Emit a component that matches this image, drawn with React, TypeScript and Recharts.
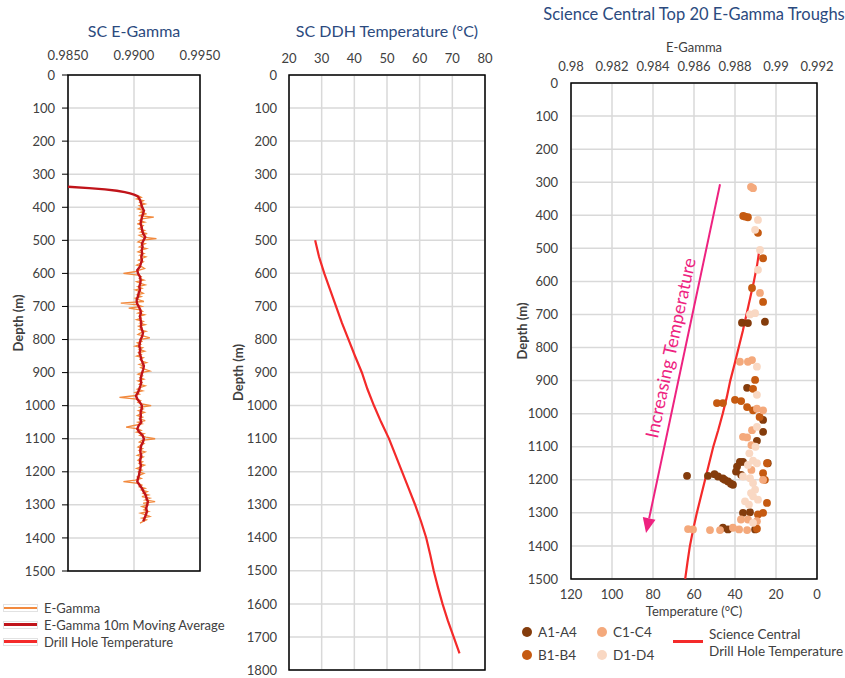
import React from 'react';
import { ScatterChart, Scatter, XAxis, YAxis, CartesianGrid, ReferenceArea, ReferenceLine } from 'recharts';

const FONT = 'Lato, "Noto Sans", sans-serif';
const TEXT = '#404040';
const TITLE = '#2B4A7E';
const GRID = '#D9D9D9';

const RAW_COLOR = '#F28A3E';
const MA_COLOR = '#C0141A';
const TEMP_COLOR = '#F42A2A';
const PINK = '#EE2280';

const A_COLOR = '#843C0C';
const B_COLOR = '#C55A11';
const C_COLOR = '#F4A97C';
const D_COLOR = '#F9D8C3';

// axis ticks
const depthTicks1500 = [0, 100, 200, 300, 400, 500, 600, 700, 800, 900, 1000, 1100, 1200, 1300, 1400, 1500];
const depthTicks1800 = [0, 100, 200, 300, 400, 500, 600, 700, 800, 900, 1000, 1100, 1200, 1300, 1400, 1500, 1600, 1700, 1800];
const egTicks = [0.985, 0.99, 0.995];
const ddhTempTicks = [20, 30, 40, 50, 60, 70, 80];
const troughEgTicks = [0.98, 0.982, 0.984, 0.986, 0.988, 0.99, 0.992];
const troughTempTicks = [0, 20, 40, 60, 80, 100, 120];

// E-Gamma log, sampled every 5 m from 365 m
const EG_START = 365;
const EG_STEP = 5;
const egRaw = [
  0.9903, 0.99055, 0.9902, 0.9907, 0.99045, 0.99085, 0.9904, 0.99065, 0.9903, 0.99075,
  0.9905, 0.99095, 0.99035, 0.9915, 0.9906, 0.9904, 0.9908, 0.99025, 0.9907, 0.99055,
  0.99035, 0.9908, 0.9905, 0.991, 0.9904, 0.99065, 0.9917, 0.9905, 0.9903, 0.99085,
  0.9906, 0.9904, 0.99095, 0.99055, 0.9903, 0.99075, 0.99045, 0.9909, 0.9906, 0.99035,
  0.9907, 0.99045, 0.9902, 0.9906, 0.9908, 0.9904, 0.99005, 0.9892, 0.9903, 0.99055,
  0.9904, 0.99075, 0.9902, 0.9905, 0.99085, 0.9903, 0.9906, 0.9901, 0.99045, 0.9907,
  0.99025, 0.99055, 0.9901, 0.9904, 0.99075, 0.989, 0.9903, 0.9906, 0.9896, 0.99045,
  0.99065, 0.9903, 0.9908, 0.9904, 0.99055, 0.9902, 0.9907, 0.99045, 0.99085, 0.99035,
  0.9906, 0.9904, 0.9909, 0.9905, 0.9903, 0.99075, 0.9912, 0.99045, 0.9906, 0.99025,
  0.9905, 0.9901, 0.99065, 0.9904, 0.9908, 0.99035, 0.99055, 0.9902, 0.9907, 0.99045,
  0.9906, 0.99095, 0.9904, 0.9907, 0.9905, 0.99085, 0.9912, 0.99055, 0.9903, 0.99065,
  0.99045, 0.99075, 0.9903, 0.9906, 0.9904, 0.99085, 0.9905, 0.99025, 0.99065, 0.9901,
  0.9904, 0.99, 0.9889, 0.9902, 0.9905, 0.9903, 0.9906, 0.9913, 0.99045, 0.9907,
  0.99035, 0.9908, 0.9905, 0.99025, 0.99065, 0.9904, 0.99085, 0.9903, 0.9906, 0.99,
  0.9894, 0.9903, 0.99055, 0.9902, 0.99075, 0.99045, 0.9909, 0.9916, 0.9906, 0.9904,
  0.99075, 0.9905, 0.9903, 0.99065, 0.9904, 0.99085, 0.99055, 0.99025, 0.9907, 0.99045,
  0.9903, 0.99065, 0.9904, 0.9908, 0.9905, 0.9902, 0.9906, 0.99035, 0.99075, 0.99045,
  0.99025, 0.99055, 0.9901, 0.9892, 0.9903, 0.9906, 0.9904, 0.99085, 0.99055, 0.991,
  0.9907, 0.9911, 0.9906, 0.9912, 0.99085, 0.9916, 0.9907, 0.99105, 0.9906, 0.99095,
  0.99075, 0.9911, 0.9905, 0.9909, 0.9912, 0.9906, 0.99095, 0.9907, 0.99045,
];

// 10 m moving average, every 10 m from 370 m, with the sharp rise above it
const riseDepths = [338, 342, 346, 350, 354, 358, 362, 366];
const riseValues = [0.985, 0.9866, 0.9878, 0.9887, 0.9893, 0.9897, 0.99, 0.99025];
const MA_START = 370;
const MA_STEP = 10;
const egMovingAvg = [
  0.99035, 0.99048, 0.99055, 0.99062, 0.99075, 0.99068, 0.9906, 0.99055, 0.9905, 0.99058,
  0.99062, 0.9907, 0.99085, 0.99072, 0.9906, 0.99065, 0.99058, 0.99062, 0.99055, 0.9906,
  0.99052, 0.99045, 0.99025, 0.9903, 0.99045, 0.9905, 0.99048, 0.9904, 0.99045, 0.99035,
  0.9903, 0.9902, 0.99022, 0.99035, 0.99048, 0.99052, 0.99045, 0.9905, 0.99055, 0.99052,
  0.9906, 0.99068, 0.99062, 0.9905, 0.99045, 0.9904, 0.99048, 0.99042, 0.9905, 0.99055,
  0.99065, 0.99075, 0.9907, 0.99062, 0.99055, 0.9905, 0.99055, 0.99048, 0.9904, 0.9903,
  0.99015, 0.99025, 0.99045, 0.9906, 0.99058, 0.9905, 0.99052, 0.99048, 0.99055, 0.99035,
  0.99025, 0.9904, 0.99065, 0.99075, 0.99068, 0.99055, 0.9905, 0.99048, 0.99055, 0.9905,
  0.99045, 0.99052, 0.99048, 0.99042, 0.99038, 0.9903, 0.99025, 0.99042, 0.9906, 0.99072,
  0.99088, 0.99095, 0.99105, 0.991, 0.99092, 0.99098, 0.9909, 0.9908, 0.9907,
];

// drill hole temperature
const tempDepths = [500, 550, 600, 650, 700, 750, 800, 850, 900, 950, 1000, 1050, 1100, 1150, 1200, 1250, 1300, 1350, 1400, 1450, 1500, 1550, 1600, 1650, 1700, 1750];
const tempValues = [28, 29.2, 30.8, 32.6, 34.4, 36.2, 38.2, 40.2, 42.3, 44, 46, 48.2, 50.6, 52.6, 54.6, 56.6, 58.6, 60.4, 62, 63.2, 64.3, 65.6, 67, 68.6, 70.4, 72.2];

// top 20 troughs: [depth, e-gamma]
const troughA = [
  [725, 0.98834], [726, 0.98863], [722, 0.98946], [922, 0.98859], [1019, 0.98937], [1055, 0.98937],
  [1082, 0.98907], [1188, 0.98566], [1188, 0.98668], [1183, 0.987], [1190, 0.98717], [1196, 0.98741],
  [1200, 0.9875], [1205, 0.98766], [1212, 0.9878], [1215, 0.9879], [1146, 0.98824], [1146, 0.98839],
  [1160, 0.9881], [1175, 0.98805], [1185, 0.9883], [1150, 0.9896], [1300, 0.98839], [1298, 0.98873],
  [1345, 0.98741], [1350, 0.98766], [1350, 0.98898],
];
const troughB = [
  [404, 0.98849], [406, 0.98863], [402, 0.9884], [453, 0.98912], [530, 0.98937], [620, 0.98883],
  [662, 0.98937], [898, 0.98898], [925, 0.98888], [968, 0.98712], [968, 0.98741], [958, 0.988],
  [962, 0.9883], [980, 0.98859], [990, 0.98888], [1010, 0.9892], [1150, 0.98956], [1180, 0.98937],
  [1200, 0.98946], [1270, 0.98956], [1305, 0.98912], [1300, 0.98937], [1348, 0.98907],
];
const troughC = [
  [314, 0.98878], [318, 0.98888], [635, 0.98922], [843, 0.98824], [843, 0.98863], [838, 0.98883],
  [985, 0.98907], [990, 0.98937], [1050, 0.98883], [1070, 0.98839], [1072, 0.98859], [1095, 0.9888],
  [1170, 0.9888], [1200, 0.98937], [1320, 0.98829], [1320, 0.98863], [1325, 0.98907], [1345, 0.9879],
  [1352, 0.98727], [1352, 0.98678], [1350, 0.9882], [1352, 0.98859], [1349, 0.98571], [1350, 0.98595],
];
const troughD = [
  [414, 0.98912], [444, 0.98898], [505, 0.98922], [565, 0.98912], [696, 0.98898], [700, 0.98873],
  [858, 0.98907], [943, 0.98907], [1040, 0.98907], [1100, 0.989], [1120, 0.9887], [1142, 0.98888],
  [1150, 0.98907], [1155, 0.98863], [1190, 0.98839], [1195, 0.98873], [1210, 0.98888], [1230, 0.98898],
  [1240, 0.98878], [1250, 0.98888], [1260, 0.98912], [1265, 0.98849], [1275, 0.98868], [1330, 0.98888],
];

// "Increasing Temperature" arrow, in temperature / depth units
const arrowFrom = { t: 47.3, depth: 306 };
const arrowTo = { t: 83.4, depth: 1361 };

const egRawData = egRaw.map((eg, i) => ({ depth: EG_START + i * EG_STEP, eg }));
const egMaData = [
  ...riseDepths.map((depth, i) => ({ depth, eg: riseValues[i] })),
  ...egMovingAvg.map((eg, i) => ({ depth: MA_START + i * MA_STEP, eg })),
];
const tempData = tempDepths.map((depth, i) => ({ depth, t: tempValues[i] }));
const tempData1500 = tempData.filter((d) => d.depth <= 1500);
const toPoints = (rows: number[][]) => rows.map(([depth, eg]) => ({ depth, eg }));

const tick = { fill: TEXT, fontSize: 13 };
const noShape = () => <g />;
const dot = (color: string) => (p: any) => <circle cx={p.cx} cy={p.cy} r={3.9} fill={color} />;

const ArrowShape = (p: any) => {
  const { x1, y1, x2, y2 } = p;
  const dx = x2 - x1;
  const dy = y2 - y1;
  const len = Math.hypot(dx, dy);
  const ux = dx / len;
  const uy = dy / len;
  const head = 15;
  const half = 6.5;
  const bx = x2 - ux * head;
  const by = y2 - uy * head;
  // text runs up the arrow, on its left side
  const mx = (x1 + x2) / 2 - uy * 15 - ux * 8;
  const my = (y1 + y2) / 2 + ux * 15 - uy * 8;
  const angle = (Math.atan2(-uy, -ux) * 180) / Math.PI;
  return (
    <g>
      <line x1={x1} y1={y1} x2={bx} y2={by} stroke={PINK} strokeWidth={2} />
      <polygon
        points={`${x2},${y2} ${bx - uy * half},${by + ux * half} ${bx + uy * half},${by - ux * half}`}
        fill={PINK}
      />
      <text
        x={mx}
        y={my}
        fill={PINK}
        fontSize={18}
        textAnchor="middle"
        dominantBaseline="central"
        transform={`rotate(${angle}, ${mx}, ${my})`}
      >
        Increasing Temperature
      </text>
    </g>
  );
};

const Title = ({ x, y, text, size = 16 }: { x: number; y: number; text: string; size?: number }) => (
  <div style={{ position: 'absolute', left: x, top: y, transform: 'translate(-50%, -50%)', whiteSpace: 'nowrap', color: TITLE, fontSize: size }}>
    {text}
  </div>
);

const depthLabel = { value: 'Depth (m)', angle: -90, position: 'insideLeft' as const, offset: 5, style: { textAnchor: 'middle', fill: TEXT, fontWeight: 700, fontSize: 13 } };

const lineLegend = [
  { name: 'E-Gamma', color: RAW_COLOR, w: 2 },
  { name: 'E-Gamma 10m Moving Average', color: MA_COLOR, w: 3 },
  { name: 'Drill Hole Temperature', color: TEMP_COLOR, w: 3 },
];

const dotLegend = [
  { name: 'A1-A4', color: A_COLOR, x: 527, y: 632 },
  { name: 'B1-B4', color: B_COLOR, x: 527, y: 655 },
  { name: 'C1-C4', color: C_COLOR, x: 602, y: 632 },
  { name: 'D1-D4', color: D_COLOR, x: 602, y: 655 },
];

export default function App() {
  return (
    <div style={{ position: 'absolute', left: 0, top: 0, width: 845, height: 678, overflow: 'hidden', background: '#fff', fontFamily: FONT }}>
      <Title x={134} y={30} text="SC E-Gamma" />
      <Title x={387} y={30} text="SC DDH Temperature (°C)" />
      <Title x={694} y={14} text="Science Central Top 20 E-Gamma Troughs" size={16.5} />

      {/* SC E-Gamma */}
      <div style={{ position: 'absolute', left: 0, top: 0 }}>
        <ScatterChart width={225} height={580} margin={{ top: 50, right: 25, bottom: 9, left: 13 }}>
          <CartesianGrid stroke={GRID} strokeWidth={1.5} />
          <XAxis type="number" dataKey="eg" orientation="top" height={25} domain={[0.985, 0.995]} ticks={egTicks}
            allowDataOverflow tickFormatter={(v: number) => v.toFixed(4)} tick={tick} tickSize={0} tickMargin={15} axisLine={false} />
          <YAxis type="number" dataKey="depth" reversed width={55} domain={[0, 1500]} ticks={depthTicks1500}
            allowDataOverflow tick={tick} tickSize={6} tickMargin={7} tickLine={{ stroke: '#000' }} axisLine={false}
            interval={0} label={depthLabel} />
          <ReferenceArea x1={0.985} x2={0.995} y1={0} y2={1500} fill="none" stroke="#000" strokeWidth={1.5} fillOpacity={0} />
          <Scatter data={egRawData} line={{ stroke: RAW_COLOR, strokeWidth: 1.3 }} shape={noShape} isAnimationActive={false} />
          <Scatter data={egMaData} line={{ stroke: MA_COLOR, strokeWidth: 2.4 }} shape={noShape} isAnimationActive={false} />
        </ScatterChart>
      </div>

      {/* SC DDH Temperature */}
      <div style={{ position: 'absolute', left: 225, top: 0 }}>
        <ScatterChart width={275} height={678} margin={{ top: 50, right: 15, bottom: 8, left: 8 }}>
          <CartesianGrid stroke={GRID} strokeWidth={1.5} />
          <XAxis type="number" dataKey="t" orientation="top" height={25} domain={[20, 80]} ticks={ddhTempTicks}
            allowDataOverflow tick={tick} tickSize={0} tickMargin={12} axisLine={false} />
          <YAxis type="number" dataKey="depth" reversed width={56} domain={[0, 1800]} ticks={depthTicks1800}
            allowDataOverflow tick={tick} tickSize={0} tickMargin={12} tickLine={false} axisLine={false}
            interval={0} label={depthLabel} />
          <ReferenceArea x1={20} x2={80} y1={0} y2={1800} fill="none" stroke="#000" strokeWidth={1.5} fillOpacity={0} />
          <Scatter data={tempData} line={{ stroke: TEMP_COLOR, strokeWidth: 2.2 }} shape={noShape} isAnimationActive={false} />
        </ScatterChart>
      </div>

      {/* Top 20 troughs */}
      <div style={{ position: 'absolute', left: 505, top: 0 }}>
        <ScatterChart width={340} height={625} margin={{ top: 33, right: 28, bottom: 6, left: 12 }}>
          <CartesianGrid stroke={GRID} strokeWidth={1.5} xAxisId="t" />
          <XAxis xAxisId="eg" type="number" dataKey="eg" orientation="top" height={50} domain={[0.98, 0.992]} ticks={troughEgTicks}
            allowDataOverflow tickFormatter={(v: number) => String(+v.toFixed(3))} tick={tick} tickSize={0} tickMargin={12} axisLine={false}
            label={{ value: 'E-Gamma', position: 'insideTop', offset: 10, style: { fill: TEXT, fontSize: 13 } }} />
          <XAxis xAxisId="t" type="number" dataKey="t" orientation="bottom" height={40} domain={[0, 120]} ticks={troughTempTicks} reversed
            allowDataOverflow tick={tick} tickSize={0} tickMargin={11} axisLine={false}
            label={{ value: 'Temperature (°C)', position: 'insideBottom', offset: 3, style: { fill: TEXT, fontSize: 13 } }} />
          <YAxis type="number" dataKey="depth" reversed width={54} domain={[0, 1500]} ticks={depthTicks1500}
            allowDataOverflow tick={tick} tickSize={0} tickMargin={13} tickLine={false} axisLine={false}
            interval={0} label={depthLabel} />
          <ReferenceArea xAxisId="t" x1={0} x2={120} y1={0} y2={1500} fill="none" stroke="#000" strokeWidth={1.5} fillOpacity={0} />
          <Scatter xAxisId="t" data={tempData1500} line={{ stroke: TEMP_COLOR, strokeWidth: 2.2 }} shape={noShape} isAnimationActive={false} />
          <Scatter xAxisId="eg" data={toPoints(troughA)} shape={dot(A_COLOR)} isAnimationActive={false} />
          <Scatter xAxisId="eg" data={toPoints(troughB)} shape={dot(B_COLOR)} isAnimationActive={false} />
          <Scatter xAxisId="eg" data={toPoints(troughC)} shape={dot(C_COLOR)} isAnimationActive={false} />
          <Scatter xAxisId="eg" data={toPoints(troughD)} shape={dot(D_COLOR)} isAnimationActive={false} />
          <ReferenceLine xAxisId="t" segment={[{ x: arrowFrom.t, y: arrowFrom.depth }, { x: arrowTo.t, y: arrowTo.depth }]}
            shape={ArrowShape} />
        </ScatterChart>
      </div>

      {/* left legend */}
      <div style={{ position: 'absolute', left: 3, top: 599, fontSize: 13, color: TEXT }}>
        {lineLegend.map((item) => (
          <div key={item.name} style={{ display: 'flex', alignItems: 'center', height: 17 }}>
            <div style={{ width: 33, height: 6, border: '1px solid #E2E2E2', display: 'flex', alignItems: 'center', marginRight: 6 }}>
              <div style={{ width: '100%', height: item.w, background: item.color }} />
            </div>
            <span style={{ whiteSpace: 'nowrap' }}>{item.name}</span>
          </div>
        ))}
      </div>

      {/* right legend */}
      {dotLegend.map((item) => (
        <div key={item.name} style={{ position: 'absolute', left: item.x - 5, top: item.y - 9, height: 18, display: 'flex', alignItems: 'center', fontSize: 13.5, color: TEXT, whiteSpace: 'nowrap' }}>
          <span style={{ width: 10, height: 10, borderRadius: 5, background: item.color, marginRight: 6 }} />
          {item.name}
        </div>
      ))}
      <div style={{ position: 'absolute', left: 673, top: 640, width: 30, height: 3, background: TEMP_COLOR }} />
      <div style={{ position: 'absolute', left: 709, top: 626, fontSize: 13.5, color: TEXT, whiteSpace: 'nowrap', lineHeight: '17px' }}>
        Science Central
        <br />
        Drill Hole Temperature
      </div>
    </div>
  );
}
